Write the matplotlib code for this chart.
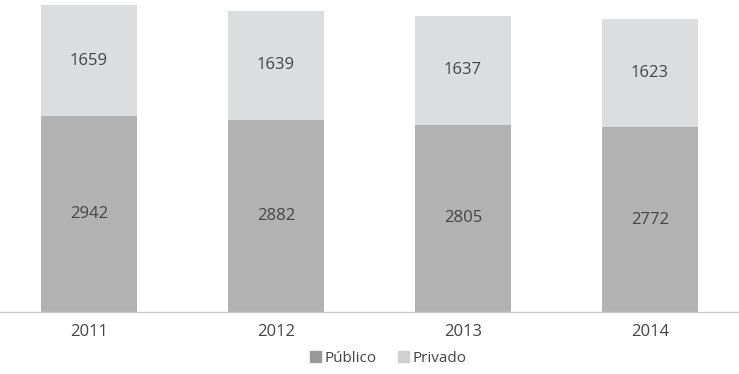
import matplotlib
matplotlib.use("Agg")
import matplotlib.pyplot as plt
from matplotlib.patches import Patch

years = ["2011", "2012", "2013", "2014"]
publico = [2942, 2882, 2805, 2772]
privado = [1659, 1639, 1637, 1623]

plt.rcParams['font.family'] = ['Open Sans', 'DejaVu Sans']

c_pub = "#b2b2b2"
c_priv = "#dcdddf"
txt = "#444444"

fig = plt.figure(figsize=(7.39, 3.74), dpi=100)
ax = fig.add_axes([0, 62/374, 1, 312/374])

x = list(range(len(years)))
w = 0.513
ax.bar(x, publico, width=w, color=c_pub, zorder=2)
ax.bar(x, privado, width=w, bottom=publico, color=c_priv, zorder=2)

for i in x:
    ax.text(i, publico[i] / 2, str(publico[i]), ha="center", va="center",
            fontsize=12, color=txt)
    ax.text(i, publico[i] + privado[i] / 2, str(privado[i]), ha="center",
            va="center", fontsize=12, color=txt)

ax.set_xlim(-0.476, 3.476)
ax.set_ylim(0, 4680)
ax.set_yticks([])
ax.set_xticks(x)
ax.set_xticklabels(years, fontsize=12, color=txt)
ax.tick_params(axis="x", length=0, pad=9)
for s in ["top", "left", "right"]:
    ax.spines[s].set_visible(False)
ax.spines["bottom"].set_color("#c8c8c8")
ax.spines["bottom"].set_linewidth(1)

handles = [Patch(color="#999999", label="Público"),
           Patch(color="#d0d0d0", label="Privado")]
fig.legend(handles=handles, loc="center", bbox_to_anchor=(388/739, 1 - 358/374),
           ncol=2, frameon=False, fontsize=11, labelcolor=txt,
           handlelength=0.75, handleheight=0.75, handletextpad=0.2,
           columnspacing=1.4)

fig.savefig("out.png", dpi=100)
